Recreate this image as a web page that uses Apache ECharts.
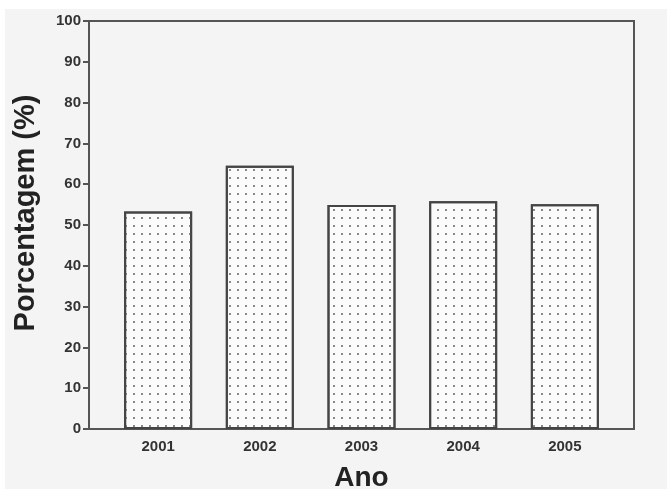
<!DOCTYPE html>
<html>
<head>
<meta charset="utf-8">
<script src="https://cdn.jsdelivr.net/npm/echarts@6/dist/echarts.min.js"></script>
<style>
html,body{margin:0;padding:0;background:#ffffff;width:670px;height:490px;overflow:hidden;}
#c{position:absolute;left:5px;top:9px;width:662px;height:480px;background:#f4f4f4;}
</style>
</head>
<body>
<div id="c"></div>
<script>
const years = ['2001', '2002', '2003', '2004', '2005'];
const positions = [1, 2, 3, 4, 5];
const values = [53.3, 64.5, 54.9, 55.8, 55.1];
const yTicks = [0, 10, 20, 30, 40, 50, 60, 70, 80, 90, 100];

const chart = echarts.init(document.getElementById('c'), null, {renderer: 'canvas'});
const lineColor = '#555555';
const textColor = '#333333';
const font = 'Liberation Sans, Arial, sans-serif';

chart.setOption({
  backgroundColor: '#f4f4f4',
  animation: false,
  grid: {
    left: 84, right: 33, top: 12, bottom: 60,
    outerBoundsMode: 'none',
    containLabel: false,
    show: true, borderColor: lineColor, borderWidth: 2, backgroundColor: 'transparent'
  },
  xAxis: {
    type: 'value',
    min: 0.32, max: 5.68,
    name: 'Ano',
    nameLocation: 'middle',
    nameGap: 35,
    nameTextStyle: {fontSize: 28, fontWeight: 'bold', color: '#222', fontFamily: font},
    axisLine: {show: true, onZero: false, lineStyle: {color: lineColor, width: 2}},
    axisTick: {show: false},
    splitLine: {show: false},
    axisLabel: {
      customValues: positions,
      formatter: function (v) { const i = positions.indexOf(Math.round(v)); return i >= 0 ? years[i] : ''; },
      fontSize: 15, fontWeight: 'bold', color: textColor, fontFamily: font, margin: 10
    }
  },
  yAxis: {
    type: 'value',
    min: 0, max: 100, interval: 10,
    name: 'Porcentagem (%)',
    nameLocation: 'middle',
    nameGap: 49,
    nameTextStyle: {fontSize: 29, fontWeight: 'bold', color: '#222', fontFamily: font, padding: [0, 0, 0, 24]},
    axisLine: {show: true, lineStyle: {color: lineColor, width: 2}},
    axisTick: {show: true, length: 6, lineStyle: {color: lineColor, width: 2}},
    splitLine: {show: false},
    axisLabel: {fontSize: 15, fontWeight: 'bold', color: textColor, fontFamily: font, margin: 8,
      formatter: function (v) { return yTicks.indexOf(v) >= 0 ? String(v) : ''; }}
  },
  series: [{
    type: 'bar',
    barWidth: 68,
    data: positions.map((p, i) => [p, values[i]]),
    itemStyle: {
      color: '#fbfbfb',
      borderColor: '#444444',
      borderWidth: 2,
      decal: {
        symbol: 'rect',
        symbolSize: 1,
        dashArrayX: [[1.6, 5.4]],
        dashArrayY: [1.6, 5.4],
        color: '#888888',
        rotation: 0
      }
    }
  }]
});
</script>
</body>
</html>
